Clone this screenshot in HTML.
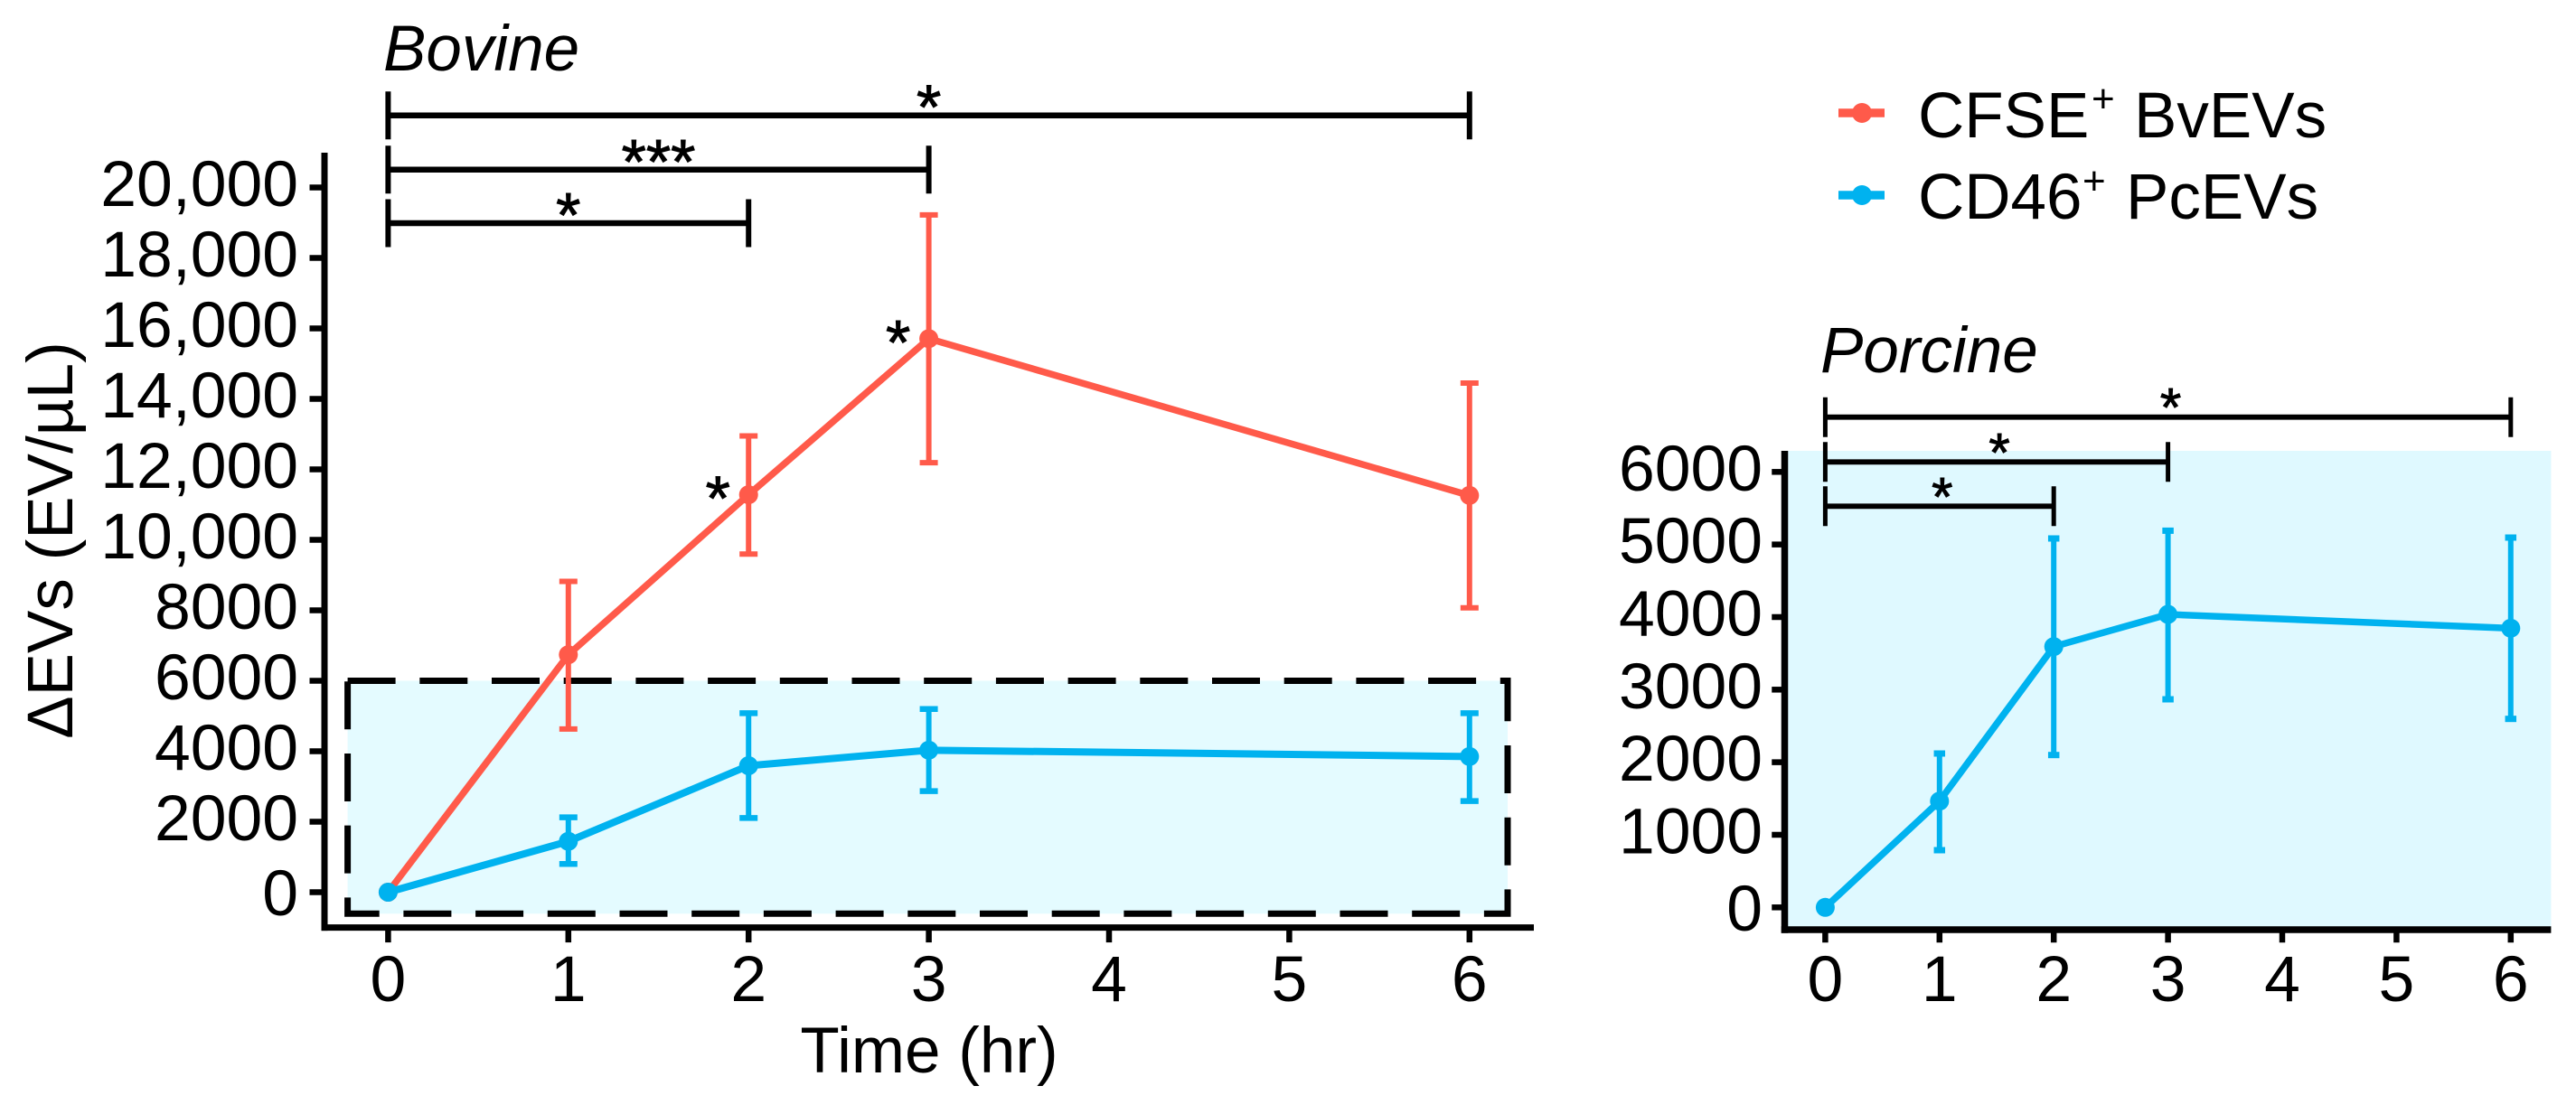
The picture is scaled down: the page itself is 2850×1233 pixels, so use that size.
<!DOCTYPE html>
<html lang="en">
<head>
<meta charset="utf-8">
<title>EV time course</title>
<style>
  html, body { margin: 0; padding: 0; background: #fff; }
  svg { display: block; }
  text { font-family: "Liberation Sans", "DejaVu Sans", sans-serif; fill: #000; }
</style>
</head>
<body>
<svg id="figure" xmlns="http://www.w3.org/2000/svg" width="2850" height="1233" viewBox="0 0 2850 1233">
  <rect width="2850" height="1233" fill="#ffffff"/>
  <g id="bovine"></g>
  <g id="porcine"></g>

  <text x="424" y="78" font-size="71" font-style="italic">Bovine</text>
  <text x="2014" y="412" font-size="71" font-style="italic">Porcine</text>
  <text transform="translate(80 598) rotate(-90)" text-anchor="middle" font-size="71">ΔEVs (EV/µL)</text>
  <text x="1028" y="1187" text-anchor="middle" font-size="71">Time (hr)</text>

  <g>
    <g>
      <line x1="2034" x2="2085" y1="125" y2="125" stroke="#FF5A4A" stroke-width="9.5"/>
      <circle cx="2060" cy="125" r="11" fill="#FF5A4A"/>
      <text font-size="71"><tspan x="2122" y="152">CFSE</tspan><tspan x="2314" y="124" font-size="44">+</tspan><tspan x="2361" y="152">BvEVs</tspan></text>
    </g>
    <g>
      <line x1="2034" x2="2085" y1="216" y2="216" stroke="#00B2EF" stroke-width="9.5"/>
      <circle cx="2060" cy="216" r="11" fill="#00B2EF"/>
      <text font-size="71"><tspan x="2122" y="242">CD46</tspan><tspan x="2304" y="215" font-size="44">+</tspan><tspan x="2352" y="242">PcEVs</tspan></text>
    </g>
  </g>
</svg>
<script>
// Shared categories
const timePoints = [0, 1, 2, 3, 6];
const xTickValues = [0, 1, 2, 3, 4, 5, 6];

// Bovine panel data
const bovineYTicks = [0, 2000, 4000, 6000, 8000, 10000, 12000, 14000, 16000, 18000, 20000];
const bovineYLabels = ['0', '2000', '4000', '6000', '8000', '10,000', '12,000', '14,000', '16,000', '18,000', '20,000'];
const bvMean = [0, 6740, 11280, 15710, 11260];
const bvUpper = [0, 8820, 12950, 19220, 14450];
const bvLower = [0, 4630, 9595, 12190, 8070];
const pcMean = [0, 1443, 3590, 4030, 3850];
const pcUpper = [0, 2125, 5080, 5200, 5080];
const pcLower = [0, 802, 2105, 2867, 2587];
const bovineBracketStart = [0, 0, 0];
const bovineBracketEnd = [6, 3, 2];
const bovineBracketStars = ['*', '***', '*'];
const bovineSideStarTimes = [2, 3];
const bovineSideStarValues = [11280, 15710];

// Porcine panel data
const porcineYTicks = [0, 1000, 2000, 3000, 4000, 5000, 6000];
const porcineYLabels = ['0', '1000', '2000', '3000', '4000', '5000', '6000'];
const pcZoomMean = [0, 1464, 3593, 4037, 3846];
const pcZoomUpper = [0, 2120, 5083, 5190, 5095];
const pcZoomLower = [0, 788, 2099, 2867, 2597];
const porcineBracketStart = [0, 0, 0];
const porcineBracketEnd = [6, 3, 2];
const porcineBracketStars = ['*', '*', '*'];

const RED = '#FF5A4A';
const BLUE = '#00B2EF';
const NS = 'http://www.w3.org/2000/svg';

// Axis functions
const xB = function (t) { return 429.4 + 199.4 * t; };
const yB = function (v) { return 987.5 - 0.039 * v; };
const xP = function (t) { return 2019.4 + 126.4 * t; };
const yP = function (v) { return 1004.3 - 0.08033 * v; };

function shape(parent, tag, attrs) {
  const el = document.createElementNS(NS, tag);
  Object.keys(attrs).forEach(function (k) { el.setAttribute(k, attrs[k]); });
  parent.appendChild(el);
  return el;
}
function seg(parent, x1, y1, x2, y2, color, width) {
  return shape(parent, 'line', { x1: x1, y1: y1, x2: x2, y2: y2, stroke: color, 'stroke-width': width });
}

function drawSeries(parent, key, color, xs, ys, mean, upper, lower, capW, capH, lineW) {
  for (let i = 0; i < xs.length; i++) {
    if (upper[i] === lower[i]) continue;
    const x = xs[i];
    const bar = seg(parent, x, ys(upper[i]), x, ys(lower[i]), color, 6);
    
    
    const capTop = seg(parent, x - capW / 2, ys(upper[i]), x + capW / 2, ys(upper[i]), color, capH);
    
    
    const capBottom = seg(parent, x - capW / 2, ys(lower[i]), x + capW / 2, ys(lower[i]), color, capH);
    
    
  }
  const pts = xs.map(function (x, i) { return x + ',' + ys(mean[i]); }).join(' ');
  const line = shape(parent, 'polyline', { points: pts, fill: 'none', stroke: color, 'stroke-width': lineW, 'stroke-linejoin': 'round' });
  
  
  for (let i = 0; i < xs.length; i++) {
    const dot = shape(parent, 'circle', { cx: xs[i], cy: ys(mean[i]), r: 10.5, fill: color });
    
    
  }
}

function drawBrackets(parent, sx, sy, ys, starts, ends, stars, capHalf, fontSize, starDy, starDx, lineW, capW) {
  for (let i = 0; i < stars.length; i++) {
    const x1 = sx(starts[i]);
    const x2 = sx(ends[i]);
    const y = ys[i];
    const bar = seg(parent, x1, y, x2, y, '#000', lineW);
    
    
    const capL = seg(parent, x1, y - capHalf, x1, y + capHalf, '#000', capW);
    
    
    const capR = seg(parent, x2, y - capHalf, x2, y + capHalf, '#000', capW);
    
    
    const star = shape(parent, 'text', { x: (x1 + x2) / 2 + starDx, y: y + starDy, 'text-anchor': 'middle', 'font-size': fontSize, stroke: '#000', 'stroke-width': 1 });
    star.textContent = stars[i];
    
    
  }
}

function drawAxes(parent, prefix, sx, sy, yTicks, yLabels, axisX, axisY, axisTop, axisRight, tickLen, labelRight, axisW) {
  const yAxis = seg(parent, axisX, axisTop, axisX, axisY + axisW / 2, '#000', axisW);
  
  
  const xAxis = seg(parent, axisX - axisW / 2, axisY, axisRight, axisY, '#000', axisW);
  
  
  yTicks.forEach(function (v, i) {
    const t = seg(parent, axisX - axisW / 2 - tickLen, sy(v), axisX, sy(v), '#000', 6.5);
    
    
    const off = v === 0 ? 25.5 : 20.5;
    const l = shape(parent, 'text', { x: labelRight, y: sy(v) + off, 'text-anchor': 'end', 'font-size': 71.5 });
    l.textContent = yLabels[i];
    
    
  });
  xTickValues.forEach(function (t0) {
    const t = seg(parent, sx(t0), axisY, sx(t0), axisY + axisW / 2 + tickLen, '#000', 6.5);
    
    
    const l = shape(parent, 'text', { x: sx(t0), y: 1108, 'text-anchor': 'middle', 'font-size': 71.5 });
    l.textContent = String(t0);
    
    
  });
}

// ---- Bovine panel ----
const gB = document.getElementById('bovine');
const box = shape(gB, 'rect', { x: 384.6, y: yB(6000), width: 1283.4, height: yB(-610) - yB(6000), fill: '#E4FBFF', stroke: '#000', 'stroke-width': 7, 'stroke-dasharray': '53 26.7' });


drawAxes(gB, 'bovine', xB, yB, bovineYTicks, bovineYLabels, 359, 1026.6, 169, 1697, 13, 330, 7);
drawBrackets(gB, xB, yB, [127.7, 187.8, 247], bovineBracketStart, bovineBracketEnd, bovineBracketStars, 26.5, 70, 15, 0, 6.5, 6);
drawSeries(gB, 'bvevs', RED, timePoints.map(xB), yB, bvMean, bvUpper, bvLower, 20, 6, 7.5);
drawSeries(gB, 'pcevs', BLUE, timePoints.map(xB), yB, pcMean, pcUpper, pcLower, 20, 6.5, 8);
bovineSideStarTimes.forEach(function (t, i) {
  const s = shape(gB, 'text', { x: xB(t) - 34, y: yB(bovineSideStarValues[i]) + 28, 'text-anchor': 'middle', 'font-size': 70, stroke: '#000', 'stroke-width': 1 });
  s.textContent = '*';
  
  
});

// ---- Porcine panel ----
const gP = document.getElementById('porcine');
const bg = shape(gP, 'rect', { x: 1975, y: 499, width: 847.4, height: 530, fill: '#DFF9FF' });


drawAxes(gP, 'porcine', xP, yP, porcineYTicks, porcineYLabels, 1974.5, 1029, 499, 2822.4, 10.5, 1950, 7.5);
drawBrackets(gP, xP, yP, [461.7, 511.3, 560.3], porcineBracketStart, porcineBracketEnd, porcineBracketStars, 22, 60, 10, 3, 5.8, 5);
drawSeries(gP, 'pcevs-porcine', BLUE, timePoints.map(xP), yP, pcZoomMean, pcZoomUpper, pcZoomLower, 12.5, 7, 7.5);
</script>
</body>
</html>
